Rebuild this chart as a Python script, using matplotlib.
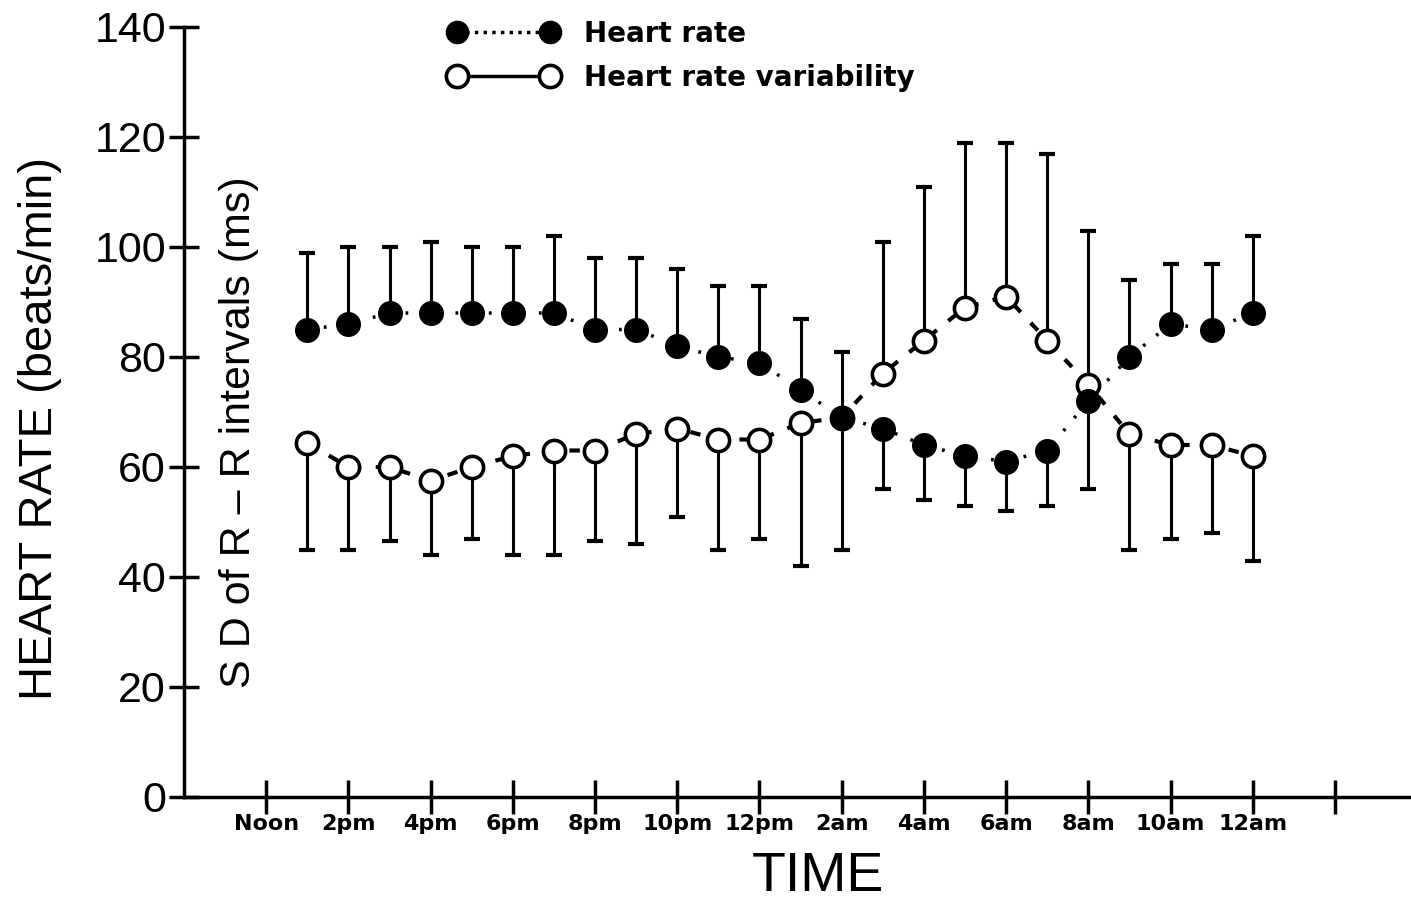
import numpy as np
import matplotlib
matplotlib.use("Agg")
import matplotlib.pyplot as plt
from matplotlib.lines import Line2D

# hours after noon
hours = np.arange(1, 25)

hr = [85, 86, 88, 88, 88, 88, 88, 85, 85, 82, 80, 79,
      74, 69, 67, 64, 62, 61, 63, 72, 80, 86, 85, 88]
hr_sd = [14, 14, 12, 13, 12, 12, 14, 13, 13, 14, 13, 14,
         13, 12, 11, 10, 9, 9, 10, 16, 14, 11, 12, 14]

hrv = [64.4, 60, 60, 57.5, 60, 62, 63, 63, 66, 67, 65, 65,
       68, 69, 77, 83, 89, 91, 83, 75, 66, 64, 64, 62]
hrv_sd = [19.4, 15, 13.5, 13.5, 13, 18, 19, 16.5, 20, 16, 20, 18,
          26, 24, 24, 28, 30, 28, 34, 28, 21, 17, 16, 19]

tick_hours = np.arange(0, 27, 2)
tick_labels = ["Noon", "2pm", "4pm", "6pm", "8pm", "10pm", "12pm",
               "2am", "4am", "6am", "8am", "10am", "12am", ""]

hr = np.array(hr)
hrv = np.array(hrv)
hr_sd = np.array(hr_sd)
hrv_sd = np.array(hrv_sd)

# bars point away from the other curve
hr_on_top = hr >= hrv - 1
hr_err = [np.where(hr_on_top, 0, hr_sd), np.where(hr_on_top, hr_sd, 0)]
hrv_err = [np.where(hr_on_top, hrv_sd, 0), np.where(hr_on_top, 0, hrv_sd)]

fig = plt.figure(figsize=(14.11, 9.08), dpi=100)
ax = fig.add_axes([184 / 1411, 1 - 797 / 908, (1411 - 184) / 1411, (797 - 27) / 908])

ax.errorbar(hours, hrv, yerr=hrv_err, fmt="none", ecolor="black",
            elinewidth=2.2, capsize=6, capthick=3, zorder=2)
ax.errorbar(hours, hr, yerr=hr_err, fmt="none", ecolor="black",
            elinewidth=2.2, capsize=6, capthick=3, zorder=2)

ax.plot(hours, hrv, color="black", lw=3, ls=(0, (2.5, 3.5)), zorder=3)
ax.plot(hours, hrv, ls="none", marker="o", ms=16, mfc="white",
        mec="black", mew=2.6, zorder=4)
ax.plot(hours, hr, color="black", lw=2.5, ls=(0, (0.8, 4)), zorder=3)
ax.plot(hours, hr, ls="none", marker="o", ms=17, mfc="black",
        mec="black", zorder=5)

ax.set_xlim(-2, 27.85)
ax.set_ylim(0, 140)
ax.spines["top"].set_visible(False)
ax.spines["right"].set_visible(False)
for s in ["left", "bottom"]:
    ax.spines[s].set_linewidth(2.5)

ax.set_yticks(np.arange(0, 141, 20))
ax.set_yticklabels([str(v) for v in range(0, 141, 20)],
                   fontsize=31, family="Liberation Sans")
ax.set_xticks(tick_hours)
ax.set_xticklabels(tick_labels, fontsize=16, fontweight="bold",
                   family="DejaVu Sans")
ax.tick_params(axis="y", direction="inout", length=22, width=2.5, pad=2)
ax.tick_params(axis="x", direction="inout", length=24, width=2.5, pad=0)

fig.text(40 / 1411, 1 - 428 / 908, "HEART RATE (beats/min)", rotation=90,
         ha="center", va="center", fontsize=34, family="Liberation Sans")
fig.text(239 / 1411, 1 - 432 / 908, "S D of R \u2013 R intervals (ms)",
         rotation=90, ha="center", va="center", fontsize=31,
         family="Liberation Sans")
fig.text(818 / 1411, 1 - 877 / 908, "TIME", ha="center", va="center",
         fontsize=40, family="Liberation Sans")

handles = [
    Line2D([], [], color="black", lw=2.5, ls=(0, (1, 1.5)), marker="o",
           ms=16, mfc="black", mec="black"),
    Line2D([], [], color="black", lw=2.5, ls="-", marker="o", ms=16,
           mfc="white", mec="black", mew=2.6),
]
ax.legend(handles, ["Heart rate", "Heart rate variability"], numpoints=2,
          loc="upper left", bbox_to_anchor=(0.195, 1.042), frameon=False,
          handlelength=3.95, handletextpad=0.95, labelspacing=0.58,
          prop={"size": 20, "weight": "bold", "family": "DejaVu Sans"})

fig.savefig("out.png", dpi=100)
